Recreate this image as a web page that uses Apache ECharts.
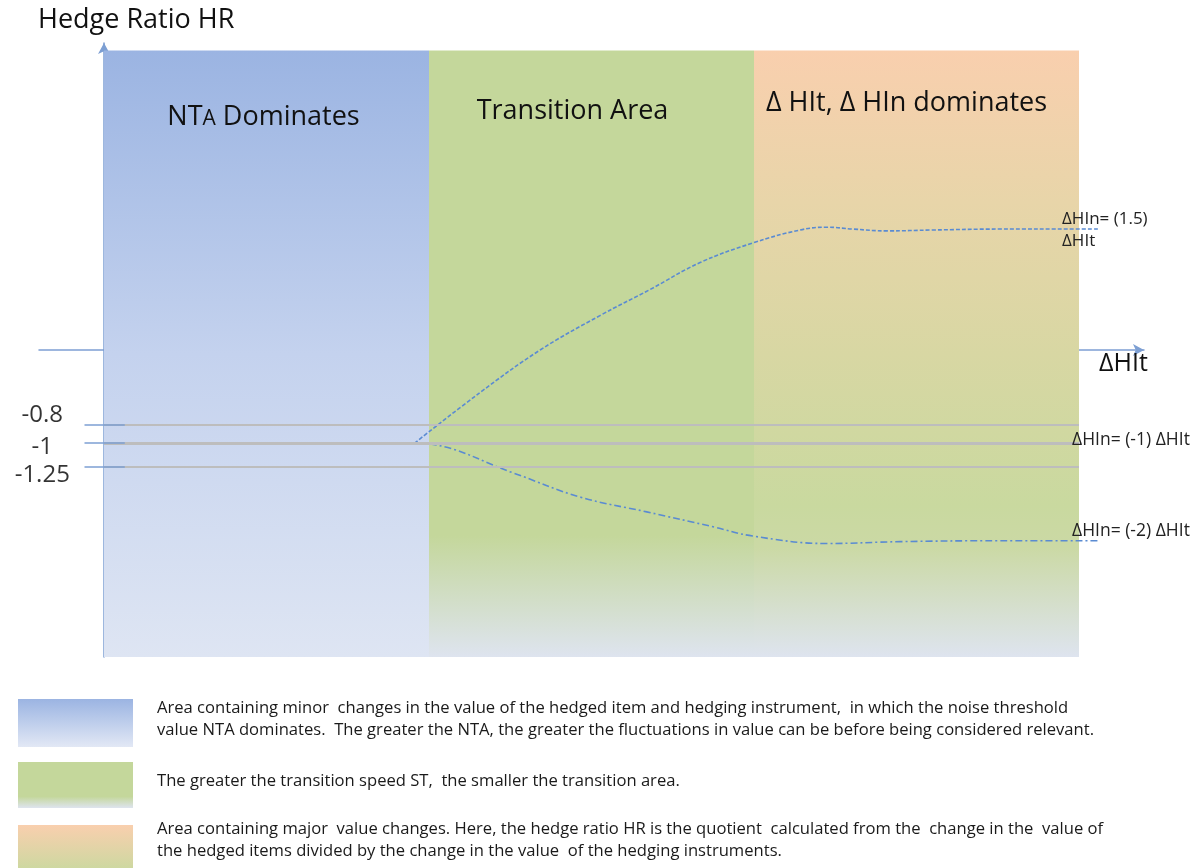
<!DOCTYPE html>
<html>
<head>
<meta charset="utf-8">
<script src="https://cdn.jsdelivr.net/npm/echarts@6/dist/echarts.min.js"></script>
<style>
  html, body { margin: 0; padding: 0; background: #fff; }
  #chart { width: 1200px; height: 868px; }
</style>
</head>
<body>
<div id="chart"></div>
<script>
// three areas along ΔHIt
const areaNames = ['NTA Dominates', 'Transition Area', 'Δ HIt, Δ HIn dominates'];
const areaStart = [0, 5, 10];
const areaEnd = [5, 10, 15];
const areaTop = 3.22;
const areaBottom = -3.3;

// reference hedge ratio levels
const refLevels = [-0.8, -1, -1.25];

// HR curve going up towards (1.5)
const upperX = [4.78, 5.78, 6.71, 7.63, 8.4, 9.17, 9.98, 10.71, 11.12, 11.52, 12.05, 12.75, 13.78, 14.97, 15.32];
const upperY = [-1, -0.46, 0, 0.37, 0.65, 0.94, 1.15, 1.29, 1.32, 1.3, 1.28, 1.29, 1.3, 1.3, 1.3];

// HR curve going down towards (-2)
const lowerX = [4.78, 5.02, 6.29, 7.32, 8.35, 9.37, 9.98, 11.12, 12.25, 13.78, 15.32];
const lowerY = [-1, -1.01, -1.32, -1.58, -1.74, -1.9, -2.0, -2.08, -2.06, -2.05, -2.05];

const legendTexts = [
  'Area containing minor  changes in the value of the hedged item and hedging instrument,  in which the noise threshold\nvalue NTA dominates.  The greater the NTA, the greater the fluctuations in value can be before being considered relevant.',
  'The greater the transition speed ST,  the smaller the transition area.',
  'Area containing major  value changes. Here, the hedge ratio HR is the quotient  calculated from the  change in the  value of\nthe hedged items divided by the change in the value  of the hedging instruments.'
];

const FONT = '"Open Sans", Lato, sans-serif';
const axisColor = '#7d9fd3';
const curveColor = '#5a8bd2';

function grad(stops) {
  return new echarts.graphic.LinearGradient(0, 0, 0, 1,
    stops.map(s => ({ offset: s[0], color: s[1] })));
}

const areaFills = [
  grad([[0, '#9bb4e2'], [0.5, '#c4d2ee'], [1, '#dee5f3']]),
  grad([[0, '#c4d79b'], [0.8, '#c4d79b'], [1, '#dee4ef']]),
  grad([[0, '#f9cfae'], [0.25, '#e8d5a9'], [0.5, '#d8d7a3'], [0.75, '#c9d99f'], [0.82, '#cbd9a5'], [1, '#dee4ef']])
];
const legendFills = [
  grad([[0, '#9bb4e2'], [1, '#e2e8f5']]),
  grad([[0, '#c4d79b'], [0.75, '#c4d79b'], [1, '#dee4ef']]),
  grad([[0, '#f9cfae'], [1, '#c9d99f']])
];
const titleDistance = [46, 47, 39];
const titleShift = [-3, -19, -10];
const tickLabelShift = [-9, 4, 9];

const chart = echarts.init(document.getElementById('chart'));

const areaData = areaNames.map((name, i) => [
  {
    name: name,
    xAxis: areaStart[i],
    yAxis: areaTop,
    itemStyle: { color: areaFills[i] },
    label: {
      distance: titleDistance[i],
      offset: [titleShift[i], 0],
      formatter: i === 0 ? '{a|NT}{b|A}{a| Dominates}' : name
    }
  },
  { xAxis: areaEnd[i], yAxis: areaBottom }
]);

const legendGraphics = [];
const boxTop = [699, 762, 825];
const boxH = [48, 46, 48];
const textTop = [697, 770, 818];
legendTexts.forEach((t, i) => {
  legendGraphics.push({
    type: 'rect', left: 18, top: boxTop[i], z: 100,
    shape: { width: 115, height: boxH[i] },
    style: { fill: legendFills[i] }
  });
  legendGraphics.push({
    type: 'text', left: 157, top: textTop[i], z: 100,
    style: { text: t, font: '16.6px ' + FONT, fill: '#1a1a1a', lineHeight: 22 }
  });
});

const option = {
  animation: false,
  grid: { left: 39, right: 56, top: 43, height: 614, outerBoundsMode: 'none', containLabel: false },
  xAxis: {
    type: 'value', min: -1, max: 16,
    axisLine: { onZero: true, symbol: ['none', 'arrow'], symbolSize: [9, 11], lineStyle: { color: axisColor, width: 1.5 } },
    axisTick: { show: false }, axisLabel: { show: false }, splitLine: { show: false }
  },
  yAxis: {
    type: 'value', min: -3.3, max: 3.3,
    axisLine: { onZero: true, symbol: ['none', 'arrow'], symbolSize: [9, 11], lineStyle: { color: axisColor, width: 1.5 } },
    axisTick: { show: false }, axisLabel: { show: false }, splitLine: { show: false }
  },
  series: [
    {
      type: 'line', name: 'areas', data: [], silent: true,
      markArea: {
        silent: true,
        label: {
          show: true, position: 'insideTop', fontSize: 27, color: '#111', fontFamily: FONT,
          rich: {
            a: { fontSize: 27, lineHeight: 34, verticalAlign: 'bottom', fontFamily: FONT, color: '#111' },
            b: { fontSize: 21, lineHeight: 34, verticalAlign: 'bottom', padding: [0, 0, 1, 0], fontFamily: FONT, color: '#111' }
          }
        },
        data: areaData
      },
      markLine: {
        silent: true, symbol: 'none', label: { show: false },
        data: refLevels.map(v => [
          { coord: [0, v], lineStyle: { color: '#bdbdbd', width: v === -1 ? 3 : 2, type: 'solid' } },
          { coord: [15, v] }
        ]).concat(refLevels.map(v => [
          { coord: [-0.3, v], lineStyle: { color: axisColor, width: 1.5, type: 'solid' } },
          { coord: [0.32, v] }
        ]))
      }
    },
    {
      // tick labels of the hedge ratio levels
      type: 'scatter', name: 'levels', silent: true, symbolSize: 0,
      data: refLevels.map((v, i) => ({
        value: [-0.95, v],
        label: { offset: [0, tickLabelShift[i]] }
      })),
      label: {
        show: true, position: 'inside', fontSize: 24, color: '#000', fontFamily: FONT,
        formatter: p => String(p.value[1])
      }
    },
    {
      type: 'line', name: 'up', smooth: 0.4, showSymbol: false, silent: true,
      data: upperX.map((x, i) => [x, upperY[i]]),
      lineStyle: { color: curveColor, width: 1.6, type: [4, 2] }
    },
    {
      type: 'line', name: 'down', smooth: 0.4, showSymbol: false, silent: true,
      data: lowerX.map((x, i) => [x, lowerY[i]]),
      lineStyle: { color: curveColor, width: 1.6, type: [7, 3, 2, 3] }
    }
  ],
  graphic: [
    { type: 'text', left: 38, top: 7, z: 100, style: { text: 'Hedge Ratio HR', font: '27px ' + FONT, fill: '#111' } },
    { type: 'text', left: 1099, top: 351, z: 100, style: { text: 'ΔHIt', font: '25px ' + FONT, fill: '#111' } },
    { type: 'text', left: 1062, top: 208, z: 100, style: { text: 'ΔHIn= (1.5)\nΔHIt', font: '17px ' + FONT, fill: '#222', lineHeight: 22 } },
    { type: 'text', left: 1072, top: 431, z: 100, style: { text: 'ΔHIn= (-1) ΔHIt', font: '17.5px ' + FONT, fill: '#222' } },
    { type: 'text', left: 1072, top: 522, z: 100, style: { text: 'ΔHIn= (-2) ΔHIt', font: '17.5px ' + FONT, fill: '#222' } }
  ].concat(legendGraphics)
};

chart.setOption(option);
</script>
</body>
</html>
